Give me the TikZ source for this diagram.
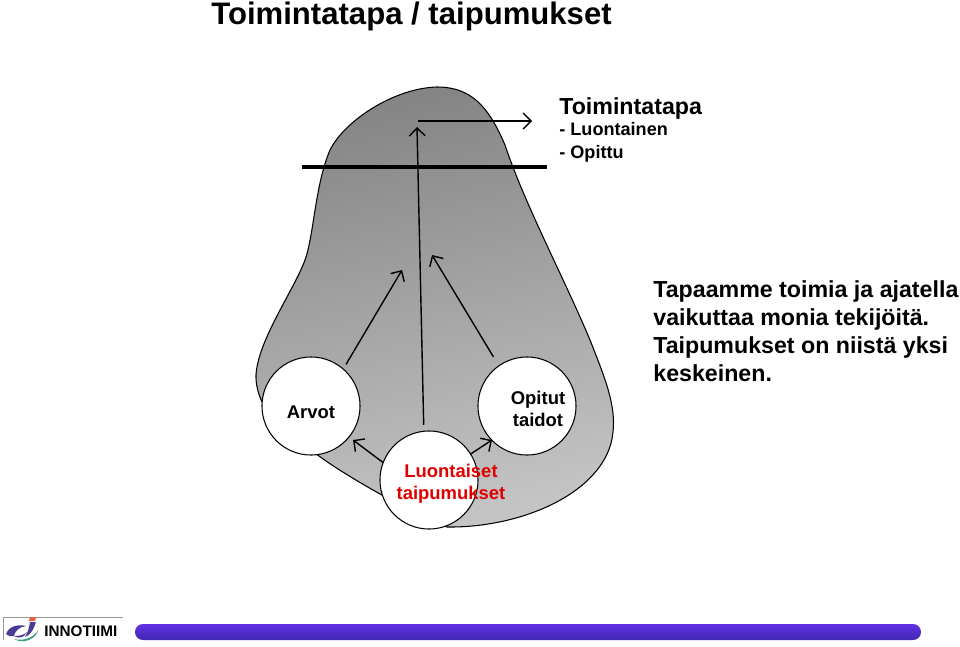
\documentclass[tikz,border=0pt]{standalone}
\usepackage{fontspec}
\setmainfont{Liberation Sans}
\usetikzlibrary{arrows.meta}
\definecolor{barblue}{HTML}{6030E4}
\definecolor{bardark}{HTML}{4028B0}
\definecolor{logogreen}{HTML}{3C9C7C}
\definecolor{logoorange}{HTML}{E0603A}
\definecolor{logopurple}{HTML}{4A3C96}
\tikzset{
  circ/.style={circle,draw=black,fill=white,line width=0.6pt,minimum size=55.8pt,inner sep=0pt},
  lab/.style={font=\fontsize{10.5pt}{12.6pt}\selectfont\bfseries,align=center,inner sep=0pt},
  arr/.style={->,line width=0.8pt},
  >={Straight Barb[length=4.5pt,width=9pt]},
}
\begin{document}
\begin{tikzpicture}[x=0.02cm,y=-0.02cm]
  \useasboundingbox (0,0) rectangle (960,646);
  % blob
  \draw[black,line width=0.6pt,top color=black!48,bottom color=black!23,shading angle=12]
    (437,87) .. controls (470,87) and (488,105) .. (505,145)
    .. controls (525,205) and (565,280) .. (590,340)
    .. controls (605,378) and (616,405) .. (613,432)
    .. controls (608,490) and (525,528) .. (447,527)
    .. controls (430,522) and (350,480) .. (315,453)
    .. controls (290,440) and (255,410) .. (256,375)
    .. controls (258,340) and (294,290) .. (305,260)
    .. controls (314,235) and (315,185) .. (330,150)
    .. controls (345,120) and (395,88) .. (437,87) -- cycle;
  % circles
  \node[circ] (arvot) at (311,406) {};
  \node[circ] (opitut) at (527,406) {};
  \node[circ] (luont) at (429,480) {};
  \node[lab] (arvotlab) at (311,412) {Arvot};
  \node[lab] (opitutlab) at (538,408.5) {Opitut\\taidot};
  \node[lab,text={rgb,255:red,224;green,0;blue,0}] (luontlab) at (451,483.5) {Luontaiset\\taipumukset};
  % arrow ends
  \coordinate (arvotend) at (402,270);
  \coordinate (midend) at (417,127);
  \coordinate (opitutend) at (432,255);
  \coordinate (toarvot) at (353,440);
  \coordinate (toopitut) at (492,440);
  \coordinate (topstart) at (418,121);
  \coordinate (topend) at (532,121);
  \coordinate (lineleft) at (302,167);
  \coordinate (lineright) at (547,167);
  \draw[arr,shorten <=2.8pt] (arvot.49) -- (arvotend);
  \draw[arr,shorten <=3.4pt] (luont.96) -- (midend);
  \draw[arr,shorten <=5.7pt] (opitut.125) -- (opitutend);
  \draw[arr] (luont.159) -- (toarvot);
  \draw[arr] (luont.32) -- (toopitut);
  \draw[arr] (topstart) -- (topend);
  \draw[line width=1.9pt] (lineleft) -- (lineright);
  % texts
  \node[anchor=base west,inner sep=0pt,font=\fontsize{17.7pt}{20pt}\selectfont\bfseries] (title) at (211,24) {Toimintatapa / taipumukset};
  \node[anchor=base west,inner sep=0pt,font=\fontsize{13.2pt}{15pt}\selectfont\bfseries] (toim) at (559,114) {Toimintatapa};
  \node[anchor=base west,inner sep=0pt,font=\fontsize{10.3pt}{12pt}\selectfont\bfseries] (toima) at (559,135) {- Luontainen};
  \node[anchor=base west,inner sep=0pt,font=\fontsize{10.3pt}{12pt}\selectfont\bfseries] (toimb) at (559,158) {- Opittu};
  \node[anchor=north west,inner sep=0pt,align=left,font=\fontsize{13.2pt}{16pt}\selectfont\bfseries] (para) at (653,280) {Tapaamme toimia ja ajatella\\vaikuttaa monia tekijöitä.\\Taipumukset on niistä yksi\\keskeinen.};
  % footer
  \draw[black!40,line width=0.4pt] (3,640) -- (3,617) -- (123,617);
  \fill[logopurple] (6,634) .. controls (9,626) and (18,624) .. (26,626) .. controls (19,627) and (15,631) .. (14,636) .. controls (11,637) and (8,636) .. (6,634) -- cycle;
  \fill[logopurple] (14,636) .. controls (20,636) and (24,635) .. (27,632) -- (24,636) .. controls (21,638) and (17,638) .. (14,636) -- cycle;
  \fill[logogreen] (14,639) .. controls (22,641) and (33,639) .. (38,630) .. controls (37,638) and (24,645) .. (14,639) -- cycle;
  \fill[logopurple] (30,622) -- (36,622) .. controls (34,628) and (32,634) .. (25,637) .. controls (28,632) and (29,628) .. (30,622) -- cycle;
  \fill[logoorange] (30,617) -- (36,617) -- (35,621) -- (29,621) -- cycle;
  \node[anchor=west,inner sep=0pt,font=\fontsize{8.7pt}{9pt}\selectfont\bfseries] (logo) at (44,631) {INNOTIIMI};
  \shade[top color=barblue,bottom color=bardark,rounded corners=4.5pt] (135,624) rectangle (921,640);
\end{tikzpicture}
\end{document}
